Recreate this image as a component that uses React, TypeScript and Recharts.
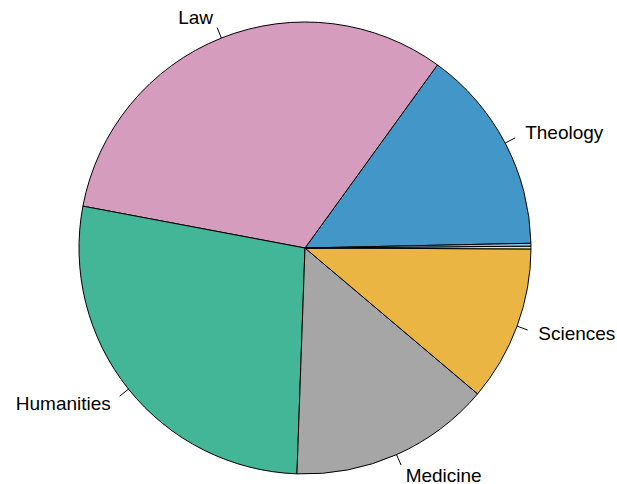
import React from "react";
import { PieChart, Pie, Cell } from "recharts";

const faculties = ["Theology", "Law", "Humanities", "Medicine", "Sciences", "", ""];
const students = [147, 320, 274, 144, 111, 2, 2];
const colors = ["#4396C8", "#D69CBE", "#42B697", "#A6A6A6", "#EBB543", "#F3EA7B", "#8DC8EE"];

const data = faculties.map((name, i) => ({ name, value: students[i] }));

const RAD = Math.PI / 180;

function renderLabel(props: any) {
  const { cx, cy, midAngle, outerRadius, name } = props;
  if (!name) return null;
  const cos = Math.cos(-midAngle * RAD);
  const sin = Math.sin(-midAngle * RAD);
  const x0 = cx + outerRadius * cos;
  const y0 = cy + outerRadius * sin;
  const x1 = cx + outerRadius * 1.05 * cos;
  const y1 = cy + outerRadius * 1.05 * sin;
  const tx = cx + outerRadius * 1.1 * cos;
  const ty = cy + outerRadius * 1.1 * sin;
  return (
    <g>
      <line x1={x0} y1={y0} x2={x1} y2={y1} stroke="#000" strokeWidth={1} />
      <text
        x={tx}
        y={ty}
        textAnchor={cos >= 0 ? "start" : "end"}
        dominantBaseline="central"
        fontFamily="'Liberation Sans', Arial, sans-serif"
        fontSize={19}
        fill="#000"
      >
        {name}
      </text>
    </g>
  );
}

export default function App() {
  return (
    <div style={{ position: "absolute", left: 0, top: 0, width: 617, height: 484, background: "#fff" }}>
      <PieChart width={617} height={484} margin={{ top: 0, right: 0, bottom: 0, left: 0 }}>
        <Pie
          data={data}
          dataKey="value"
          nameKey="name"
          cx={305}
          cy={248}
          outerRadius={226}
          startAngle={1.2}
          endAngle={361.2}
          stroke="#000"
          strokeWidth={1}
          label={renderLabel}
          labelLine={false}
          isAnimationActive={false}
        >
          {data.map((d, i) => (
            <Cell key={i} fill={colors[i]} />
          ))}
        </Pie>
      </PieChart>
    </div>
  );
}
